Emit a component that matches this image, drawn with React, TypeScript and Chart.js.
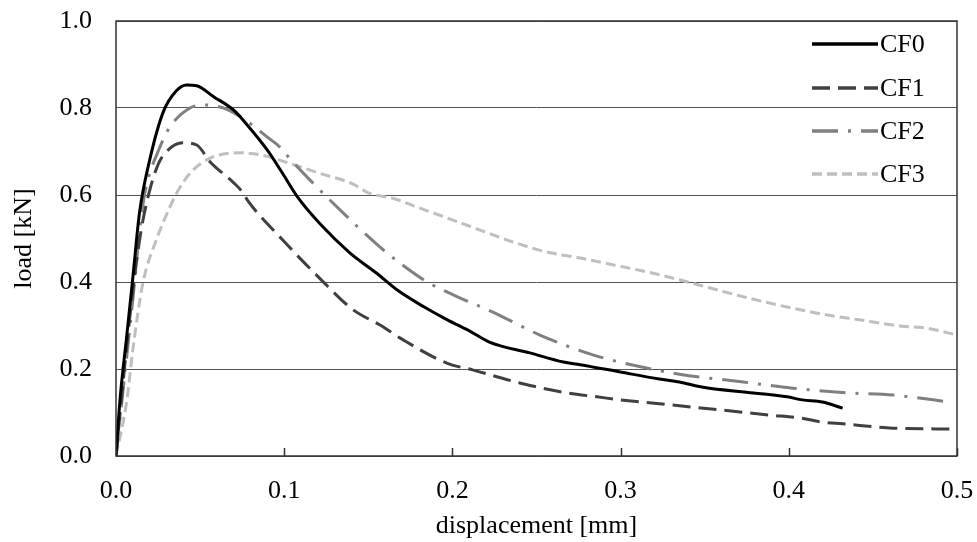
import React, { useEffect, useRef } from "react";
import { Chart, registerables } from "chart.js";

Chart.register(...registerables);

const seriesNames = ["CF0", "CF1", "CF2", "CF3"];

const cf0X = [0, 0.0024, 0.0065, 0.010, 0.014, 0.020, 0.028, 0.036, 0.042, 0.048, 0.058, 0.070, 0.078, 0.090, 0.099, 0.108, 0.121, 0.139, 0.155, 0.167, 0.183, 0.197, 0.209, 0.222, 0.246, 0.266, 0.276, 0.300, 0.323, 0.335, 0.349, 0.379, 0.399, 0.408, 0.420, 0.432];
const cf0Y = [0, 0.13, 0.28, 0.41, 0.56, 0.68, 0.79, 0.84, 0.853, 0.851, 0.826, 0.795, 0.761, 0.703, 0.65, 0.595, 0.535, 0.467, 0.42, 0.382, 0.343, 0.313, 0.29, 0.262, 0.237, 0.216, 0.21, 0.193, 0.177, 0.17, 0.158, 0.145, 0.136, 0.129, 0.124, 0.110];

const cf1X = [0, 0.005, 0.010, 0.015, 0.020, 0.025, 0.030, 0.040, 0.048, 0.056, 0.070, 0.0755, 0.078, 0.099, 0.121, 0.141, 0.157, 0.169, 0.197, 0.212, 0.240, 0.268, 0.286, 0.300, 0.331, 0.359, 0.389, 0.407, 0.420, 0.432, 0.462, 0.498];
const cf1Y = [0, 0.2, 0.38, 0.52, 0.61, 0.67, 0.70, 0.72, 0.715, 0.676, 0.628, 0.605, 0.589, 0.497, 0.409, 0.336, 0.301, 0.271, 0.213, 0.198, 0.168, 0.145, 0.136, 0.129, 0.117, 0.106, 0.094, 0.087, 0.078, 0.074, 0.064, 0.062];

const cf2X = [0, 0.005, 0.010, 0.015, 0.018, 0.025, 0.032, 0.044, 0.052, 0.064, 0.074, 0.081, 0.090, 0.0975, 0.105, 0.117, 0.127, 0.157, 0.169, 0.185, 0.203, 0.224, 0.252, 0.284, 0.312, 0.335, 0.373, 0.402, 0.435, 0.462, 0.496];
const cf2Y = [0, 0.18, 0.36, 0.55, 0.62, 0.70, 0.756, 0.80, 0.807, 0.80, 0.78, 0.761, 0.733, 0.71, 0.676, 0.628, 0.589, 0.48, 0.443, 0.40, 0.366, 0.331, 0.278, 0.232, 0.205, 0.188, 0.17, 0.156, 0.145, 0.14, 0.124];

const cf3X = [0, 0.0065, 0.010, 0.016, 0.024, 0.032, 0.036, 0.044, 0.056, 0.074, 0.086, 0.103, 0.121, 0.141, 0.150, 0.157, 0.165, 0.177, 0.197, 0.216, 0.236, 0.256, 0.276, 0.296, 0.316, 0.335, 0.373, 0.402, 0.423, 0.442, 0.466, 0.482, 0.500];
const cf3Y = [0, 0.129, 0.244, 0.398, 0.497, 0.572, 0.604, 0.65, 0.685, 0.697, 0.692, 0.673, 0.65, 0.625, 0.605, 0.598, 0.592, 0.575, 0.547, 0.52, 0.492, 0.469, 0.455, 0.439, 0.423, 0.405, 0.366, 0.34, 0.324, 0.313, 0.299, 0.294, 0.278];

const xTickValues = [0, 0.1, 0.2, 0.3, 0.4, 0.5];
const yTickValues = [0, 0.2, 0.4, 0.6, 0.8, 1.0];
const xTitle = "displacement [mm]";
const yTitle = "load [kN]";

const FONT = "'Liberation Serif', 'Times New Roman', serif";
const styles = [
  { color: "#000000", dash: [] as number[] },
  { color: "#404040", dash: [18, 8] },
  { color: "#808080", dash: [26, 10, 3, 10] },
  { color: "#bfbfbf", dash: [10, 5] },
];

const toPoints = (xs: number[], ys: number[]) => xs.map((x, i) => ({ x, y: ys[i] }));

const framePlugin = {
  id: "frameAndLegend",
  afterDraw(chart: any) {
    const { ctx, chartArea } = chart;
    const xs = chart.scales.x;
    ctx.save();
    ctx.strokeStyle = "#333";
    ctx.lineWidth = 1.5;
    xTickValues.forEach((v) => {
      const px = Math.round(xs.getPixelForValue(v)) + 0.5;
      ctx.beginPath();
      ctx.moveTo(px, chartArea.bottom);
      ctx.lineTo(px, chartArea.bottom - 8);
      ctx.stroke();
    });
    ctx.strokeStyle = "#333";
    ctx.lineWidth = 1.5;
    ctx.strokeRect(chartArea.left, chartArea.top, chartArea.right - chartArea.left, chartArea.bottom - chartArea.top);
    const rowY = [44, 88, 131, 174];
    ctx.font = `26px ${FONT}`;
    ctx.textBaseline = "middle";
    ctx.textAlign = "left";
    seriesNames.forEach((name, i) => {
      const y = rowY[i];
      ctx.beginPath();
      ctx.setLineDash(styles[i].dash);
      ctx.strokeStyle = styles[i].color;
      ctx.lineWidth = 3.5;
      ctx.moveTo(812, y);
      ctx.lineTo(878, y);
      ctx.stroke();
      ctx.setLineDash([]);
      ctx.fillStyle = "#000";
      ctx.fillText(name, 880, y + 1);
    });
    ctx.restore();
  },
};

export default function App() {
  const ref = useRef<HTMLCanvasElement | null>(null);
  useEffect(() => {
    if (!ref.current) return;
    const all = [
      toPoints(cf0X, cf0Y),
      toPoints(cf1X, cf1Y),
      toPoints(cf2X, cf2Y),
      toPoints(cf3X, cf3Y),
    ];
    const chart = new Chart(ref.current, {
      type: "line",
      data: {
        datasets: all.map((d, i) => ({
          label: seriesNames[i],
          data: d,
          borderColor: styles[i].color,
          borderDash: styles[i].dash,
          borderWidth: 3,
          pointRadius: 0,
          fill: false,
          tension: 0.3,
          cubicInterpolationMode: "monotone" as const,
        })),
      },
      options: {
        animation: false,
        responsive: false,
        layout: { padding: { left: 0, top: 21, right: 20, bottom: 0 } },
        plugins: { legend: { display: false }, tooltip: { enabled: false } },
        scales: {
          x: {
            type: "linear",
            min: 0,
            max: 0.5,
            afterBuildTicks: (s: any) => {
              s.ticks = xTickValues.map((v) => ({ value: v }));
            },
            afterFit: (s: any) => {
              s.height = 86;
              s.paddingLeft = 0;
              s.paddingRight = 0;
            },
            grid: { display: false, drawTicks: false },
            border: { display: false },
            ticks: {
              color: "#000",
              font: { family: FONT, size: 26 },
              padding: 20,
              maxRotation: 0,
              callback: (v: any) => Number(v).toFixed(1),
            },
            title: {
              display: true,
              text: xTitle,
              color: "#000",
              font: { family: FONT, size: 26 },
              padding: { top: 4, bottom: 0 },
            },
          },
          y: {
            type: "linear",
            min: 0,
            max: 1,
            afterBuildTicks: (s: any) => {
              s.ticks = yTickValues.map((v) => ({ value: v }));
            },
            afterFit: (s: any) => {
              s.width = 116;
              s.paddingTop = 0;
              s.paddingBottom = 0;
            },
            grid: { color: "#555", lineWidth: 1, drawTicks: false },
            border: { display: false },
            ticks: {
              color: "#000",
              font: { family: FONT, size: 26 },
              padding: 24,
              callback: (v: any) => Number(v).toFixed(1),
            },
            title: {
              display: true,
              text: yTitle,
              color: "#000",
              font: { family: FONT, size: 26 },
              padding: { top: 9, bottom: 0 },
            },
          },
        },
      },
      plugins: [framePlugin],
    });
    return () => chart.destroy();
  }, []);
  return (
    <div style={{ position: "fixed", left: 0, top: 0, width: 977, height: 542, background: "#fff" }}>
      <canvas ref={ref} width={977} height={542} />
    </div>
  );
}
